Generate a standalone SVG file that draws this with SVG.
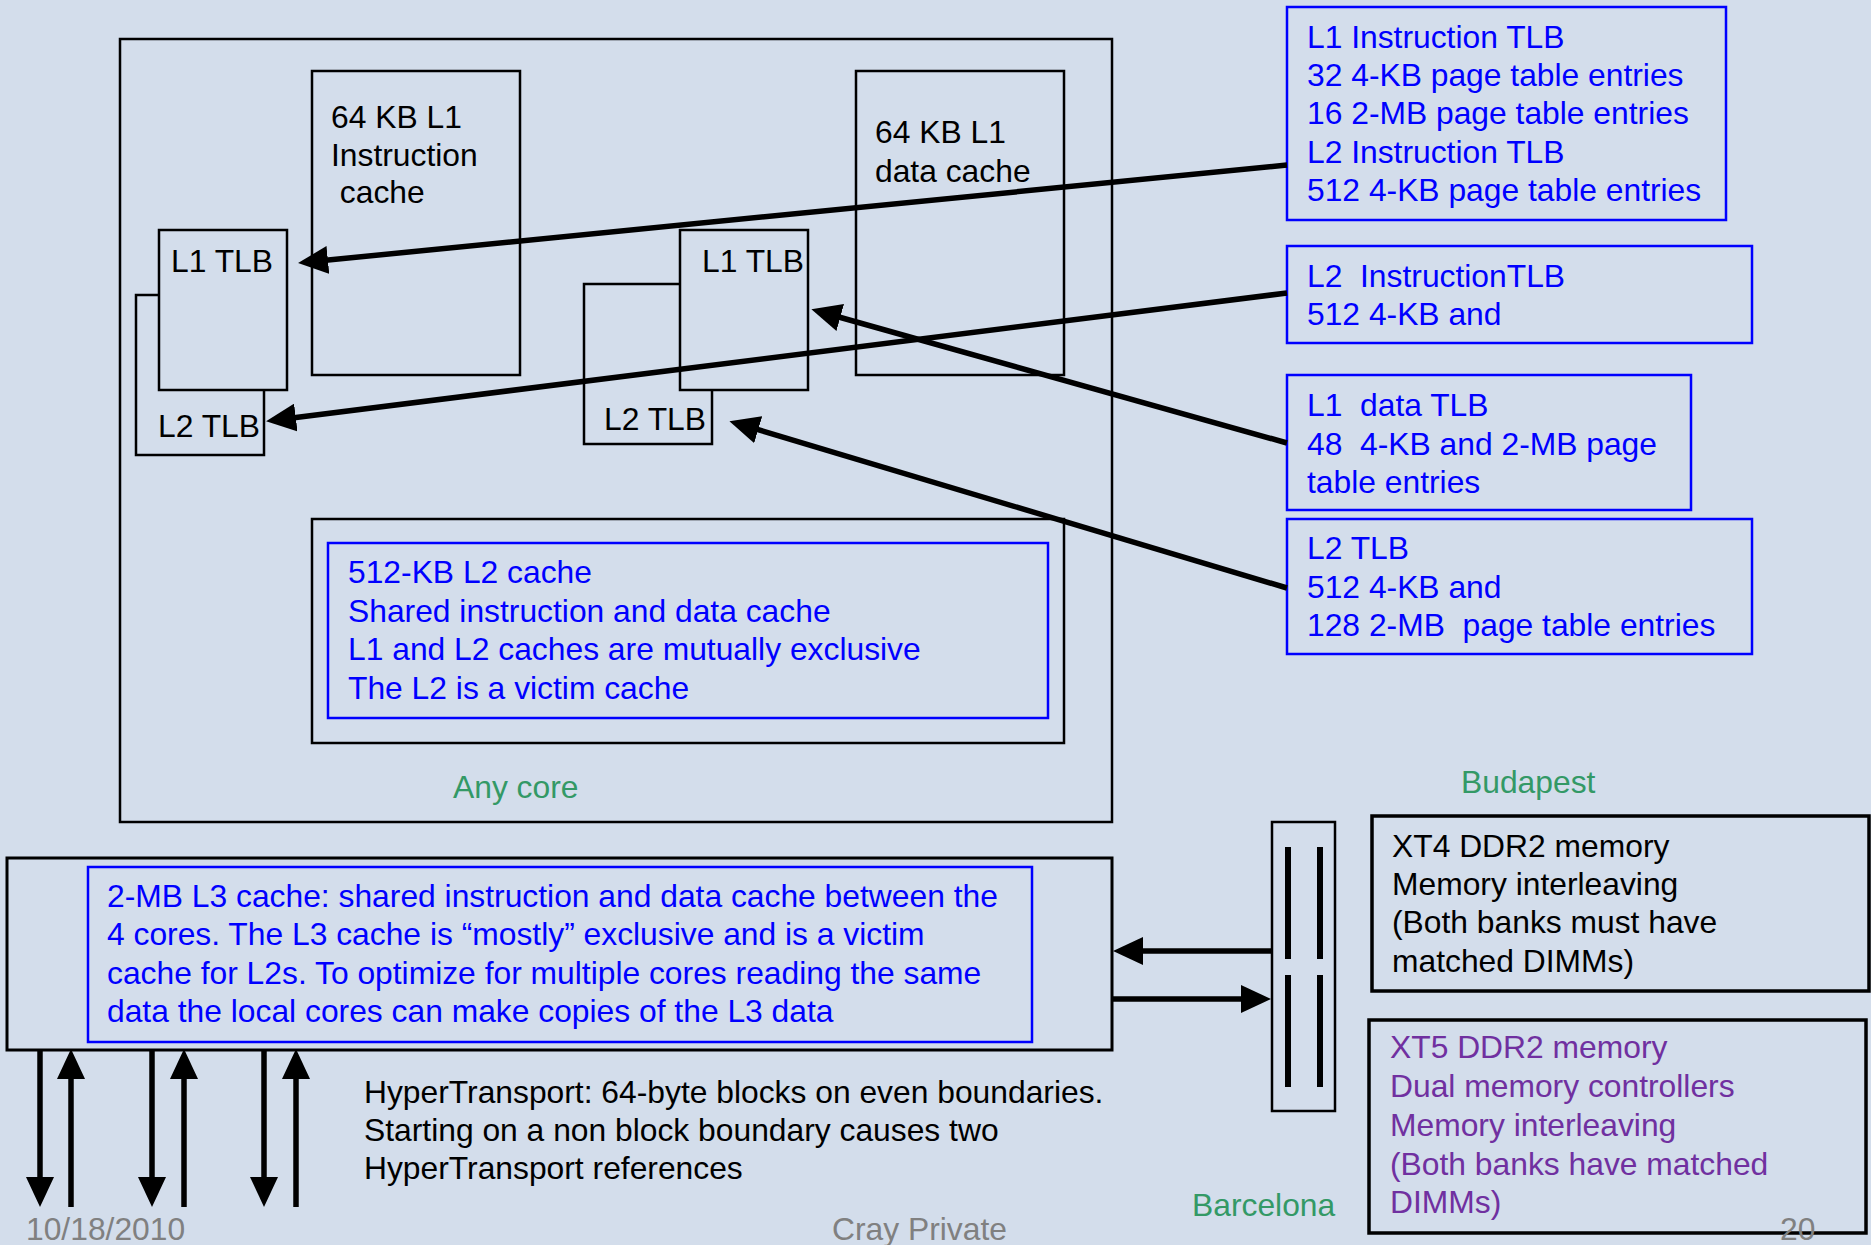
<svg xmlns="http://www.w3.org/2000/svg" width="1871" height="1245" viewBox="0 0 1871 1245">
<style>
text{font-family:"Liberation Sans",Arial,sans-serif;font-size:31.8px;white-space:pre}
.k{fill:#000}
.b{fill:#0000FF}
.g{fill:#339966}
.p{fill:#7030A0}
.gr{fill:#808080}
.box{fill:#D3DDEB;stroke:#000;stroke-width:2.5}
.bbox{fill:none;stroke:#0000FF;stroke-width:2.5}
.thick{fill:#D3DDEB;stroke:#000;stroke-width:3.5}
.con{stroke:#000;stroke-width:5.5;fill:none}
.bar{stroke:#000;stroke-width:6}
</style>
<defs>
<marker id="ah" markerUnits="userSpaceOnUse" markerWidth="30" markerHeight="28" viewBox="0 0 30 28" refX="20" refY="14" orient="auto">
<path d="M0,0 L30,14 L0,28 z" fill="#000"/>
</marker>
</defs>
<rect x="0" y="0" width="1871" height="1245" fill="#D3DDEB"/>

<g id="core">
<rect class="box" x="120" y="39" width="992" height="783"/>
<text class="g" x="453" y="798">Any core</text>
</g>

<g id="l1-icache">
<rect class="box" x="312" y="71" width="208" height="304"/>
<text class="k" x="331" y="128">64 KB L1</text>
<text class="k" x="331" y="166">Instruction</text>
<text class="k" x="331" y="203"> cache</text>
</g>

<g id="l1-dcache">
<rect class="box" x="856" y="71" width="208" height="304"/>
<text class="k" x="875" y="143">64 KB L1</text>
<text class="k" x="875" y="182">data cache</text>
</g>

<g id="left-l2tlb">
<rect class="box" x="136" y="295" width="128" height="160"/>
<text class="k" x="158" y="437">L2 TLB</text>
</g>
<g id="left-l1tlb">
<rect class="box" x="159" y="230" width="128" height="160"/>
<text class="k" x="171" y="272">L1 TLB</text>
</g>

<g id="right-l2tlb">
<rect class="box" x="584" y="284" width="128" height="160"/>
<text class="k" x="604" y="430">L2 TLB</text>
</g>
<g id="right-l1tlb">
<rect class="box" x="680" y="230" width="128" height="160"/>
<text class="k" x="702" y="272">L1 TLB</text>
</g>

<g id="l2cache">
<rect class="box" x="312" y="519" width="752" height="224"/>
<rect class="bbox" x="328" y="543" width="720" height="175"/>
<text class="b" x="348" y="583">512-KB L2 cache</text>
<text class="b" x="348" y="622">Shared instruction and data cache</text>
<text class="b" x="348" y="660">L1 and L2 caches are mutually exclusive</text>
<text class="b" x="348" y="699">The L2 is a victim cache</text>
</g>

<g id="itlb-note">
<rect class="bbox" x="1287" y="7" width="439" height="213"/>
<text class="b" x="1307" y="48">L1 Instruction TLB</text>
<text class="b" x="1307" y="86">32 4-KB page table entries</text>
<text class="b" x="1307" y="124">16 2-MB page table entries</text>
<text class="b" x="1307" y="163">L2 Instruction TLB</text>
<text class="b" x="1307" y="201">512 4-KB page table entries</text>
</g>

<g id="l2itlb-note">
<rect class="bbox" x="1287" y="246" width="465" height="97"/>
<text class="b" x="1307" y="287">L2  InstructionTLB</text>
<text class="b" x="1307" y="325">512 4-KB and</text>
</g>

<g id="dtlb-note">
<rect class="bbox" x="1287" y="375" width="404" height="135"/>
<text class="b" x="1307" y="416">L1  data TLB</text>
<text class="b" x="1307" y="455">48  4-KB and 2-MB page</text>
<text class="b" x="1307" y="493">table entries</text>
</g>

<g id="l2tlb-note">
<rect class="bbox" x="1287" y="519" width="465" height="135"/>
<text class="b" x="1307" y="559">L2 TLB</text>
<text class="b" x="1307" y="598">512 4-KB and</text>
<text class="b" x="1307" y="636">128 2-MB  page table entries</text>
</g>

<g id="l3cache">
<rect class="box" x="7" y="858" width="1105" height="192" style="stroke-width:3"/>
<rect class="bbox" x="88" y="867" width="944" height="175"/>
<text class="b" x="107" y="907">2-MB L3 cache: shared instruction and data cache between the</text>
<text class="b" x="107" y="945">4 cores. The L3 cache is “mostly” exclusive and is a victim</text>
<text class="b" x="107" y="984">cache for L2s. To optimize for multiple cores reading the same</text>
<text class="b" x="107" y="1022">data the local cores can make copies of the L3 data</text>
</g>

<g id="dimm">
<rect class="box" x="1272" y="822" width="63" height="289"/>
<line class="bar" x1="1288" y1="847" x2="1288" y2="959"/>
<line class="bar" x1="1320" y1="847" x2="1320" y2="959"/>
<line class="bar" x1="1288" y1="975" x2="1288" y2="1087"/>
<line class="bar" x1="1320" y1="975" x2="1320" y2="1087"/>
</g>

<g id="xt4">
<rect class="thick" x="1372" y="816" width="497" height="175"/>
<text class="k" x="1392" y="857">XT4 DDR2 memory</text>
<text class="k" x="1392" y="895">Memory interleaving</text>
<text class="k" x="1392" y="933">(Both banks must have</text>
<text class="k" x="1392" y="972">matched DIMMs)</text>
</g>

<g id="xt5">
<rect class="thick" x="1369" y="1020" width="497" height="213"/>
<text class="p" x="1390" y="1058">XT5 DDR2 memory</text>
<text class="p" x="1390" y="1097">Dual memory controllers</text>
<text class="p" x="1390" y="1136">Memory interleaving</text>
<text class="p" x="1390" y="1175">(Both banks have matched</text>
<text class="p" x="1390" y="1213">DIMMs)</text>
</g>

<g id="labels">
<text class="g" x="1461" y="793">Budapest</text>
<text class="g" x="1192" y="1216">Barcelona</text>
<text class="k" x="364" y="1103">HyperTransport: 64-byte blocks on even boundaries.</text>
<text class="k" x="364" y="1141">Starting on a non block boundary causes two</text>
<text class="k" x="364" y="1179">HyperTransport references</text>
<text class="gr" x="26" y="1240">10/18/2010</text>
<text class="gr" x="832" y="1240">Cray Private</text>
<text class="gr" x="1780" y="1240">20</text>
</g>

<g id="connectors">
<line class="con" x1="1287" y1="165" x2="308" y2="262" marker-end="url(#ah)"/>
<line class="con" x1="1287" y1="293" x2="276" y2="420" marker-end="url(#ah)"/>
<line class="con" x1="1287" y1="443" x2="821" y2="312" marker-end="url(#ah)"/>
<line class="con" x1="1287" y1="588" x2="739" y2="424" marker-end="url(#ah)"/>
<line class="con" x1="40" y1="1050" x2="40" y2="1197" marker-end="url(#ah)"/>
<line class="con" x1="71" y1="1207" x2="71" y2="1059" marker-end="url(#ah)"/>
<line class="con" x1="152" y1="1050" x2="152" y2="1197" marker-end="url(#ah)"/>
<line class="con" x1="184" y1="1207" x2="184" y2="1059" marker-end="url(#ah)"/>
<line class="con" x1="264" y1="1050" x2="264" y2="1197" marker-end="url(#ah)"/>
<line class="con" x1="296" y1="1207" x2="296" y2="1059" marker-end="url(#ah)"/>
<line class="con" x1="1271" y1="951" x2="1123" y2="951" marker-end="url(#ah)"/>
<line class="con" x1="1112" y1="999" x2="1261" y2="999" marker-end="url(#ah)"/>
</g>
</svg>
